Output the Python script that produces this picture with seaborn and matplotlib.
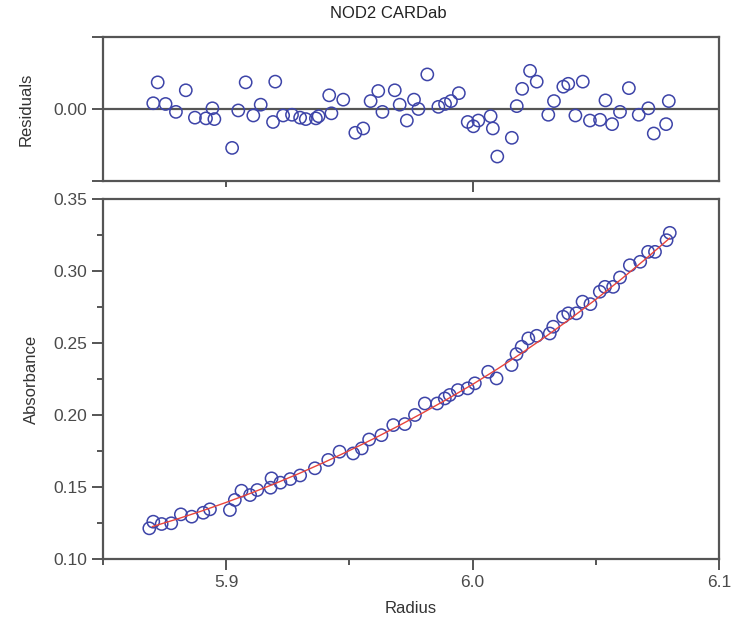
import numpy as np
import pandas as pd
import matplotlib
matplotlib.use("Agg")
import matplotlib.pyplot as plt
from matplotlib.ticker import MultipleLocator, FixedLocator
import seaborn as sns

# residual panel (radius, residual)
res_radius = [5.8704, 5.8722, 5.8754, 5.8796, 5.8836, 5.8873, 5.8918, 5.8944, 5.8952,
              5.9024, 5.9049, 5.9079, 5.9110, 5.9140, 5.9190, 5.9199, 5.9231, 5.9267,
              5.9300, 5.9323, 5.9364, 5.9375, 5.9418, 5.9427, 5.9475, 5.9524, 5.9556,
              5.9586, 5.9617, 5.9634, 5.9684, 5.9704, 5.9733, 5.9762, 5.9780, 5.9816,
              5.9861, 5.9888, 5.9912, 5.9944, 5.9980, 6.0003, 6.0023, 6.0073, 6.0082,
              6.0100, 6.0159, 6.0179, 6.0201, 6.0233, 6.0260, 6.0307, 6.0330, 6.0368,
              6.0388, 6.0417, 6.0447, 6.0476, 6.0517, 6.0539, 6.0566, 6.0598, 6.0634,
              6.0674, 6.0713, 6.0735, 6.0785, 6.0796]
residuals = [0.0008, 0.0037, 0.0007, -0.0004, 0.0026, -0.0012, -0.0013, 0.0001, -0.0014,
             -0.0054, -0.0002, 0.0037, -0.0009, 0.0006, -0.0018, 0.0038, -0.0009, -0.0008,
             -0.0012, -0.0014, -0.0013, -0.0010, 0.0019, -0.0006, 0.0013, -0.0033, -0.0027,
             0.0011, 0.0025, -0.0004, 0.0026, 0.0006, -0.0016, 0.0013, 0.0000, 0.0048,
             0.0003, 0.0007, 0.0011, 0.0022, -0.0018, -0.0024, -0.0016, -0.0010, -0.0027,
             -0.0066, -0.0040, 0.0004, 0.0028, 0.0053, 0.0038, -0.0008, 0.0011, 0.0031,
             0.0035, -0.0009, 0.0038, -0.0016, -0.0015, 0.0012, -0.0021, -0.0004, 0.0029,
             -0.0008, 0.0001, -0.0034, -0.0021, 0.0011]

# main panel (radius, absorbance)
radius = [5.8688, 5.8704, 5.8738, 5.8777, 5.8816, 5.8860, 5.8907, 5.8934, 5.9015,
          5.9035, 5.9062, 5.9097, 5.9126, 5.9180, 5.9184, 5.9220, 5.9260, 5.9300,
          5.9360, 5.9414, 5.9460, 5.9515, 5.9550, 5.9580, 5.9630, 5.9678, 5.9725,
          5.9766, 5.9806, 5.9856, 5.9887, 5.9907, 5.9940, 5.9980, 6.0009, 6.0063,
          6.0097, 6.0158, 6.0178, 6.0199, 6.0226, 6.0260, 6.0313, 6.0327, 6.0367,
          6.0388, 6.0421, 6.0446, 6.0478, 6.0516, 6.0537, 6.0570, 6.0598, 6.0638,
          6.0680, 6.0712, 6.0740, 6.0787, 6.0800]
absorbance = [0.1213, 0.1259, 0.1243, 0.1248, 0.1310, 0.1294, 0.1321, 0.1345, 0.1340,
              0.1410, 0.1474, 0.1444, 0.1479, 0.1495, 0.1560, 0.1530, 0.1555, 0.1580,
              0.1630, 0.1688, 0.1745, 0.1733, 0.1768, 0.1830, 0.1860, 0.1930, 0.1937,
              0.2000, 0.2080, 0.2080, 0.2115, 0.2139, 0.2173, 0.2185, 0.2220, 0.2300,
              0.2254, 0.2347, 0.2423, 0.2474, 0.2532, 0.2550, 0.2566, 0.2613, 0.2682,
              0.2706, 0.2706, 0.2787, 0.2770, 0.2856, 0.2890, 0.2890, 0.2955, 0.3040,
              0.3064, 0.3133, 0.3133, 0.3214, 0.3265]

# fitted curve
fit_radius = [5.87, 5.88, 5.89, 5.90, 5.91, 5.92, 5.93, 5.94, 5.95, 5.96, 5.97,
              5.98, 5.99, 6.00, 6.01, 6.02, 6.03, 6.04, 6.05, 6.06, 6.07, 6.08]
fit_abs = [0.1225, 0.1277, 0.1333, 0.1393, 0.1457, 0.1525, 0.1597, 0.1673, 0.1753,
           0.1837, 0.1925, 0.2017, 0.2113, 0.2213, 0.2319, 0.2431, 0.2549, 0.2673,
           0.2803, 0.2939, 0.3081, 0.3229]

sns.set_style("white")
plt.rcParams["font.family"] = ["Liberation Sans", "DejaVu Sans"]

frame = "#555555"
blue = "#3d44a8"
text_col = "#333333"

fig = plt.figure(figsize=(7.33, 6.29), dpi=100)
ax_res = fig.add_axes([0.1405, 0.7122, 0.8405, 0.229])
ax = fig.add_axes([0.1405, 0.1113, 0.8405, 0.5723])

df_res = pd.DataFrame({"Radius": res_radius, "Residual": residuals})
df_main = pd.DataFrame({"Radius": radius, "Absorbance": absorbance})
df_fit = pd.DataFrame({"Radius": fit_radius, "Absorbance": fit_abs})

# residuals
ax_res.axhline(0, color=frame, lw=1.6, zorder=1)
sns.scatterplot(data=df_res, x="Radius", y="Residual", ax=ax_res, marker="o",
                s=78, facecolor="none", edgecolor=blue, linewidth=1.1, zorder=3)
ax_res.set_xlim(5.85, 6.1)
ax_res.set_ylim(-0.01, 0.01)
ax_res.yaxis.set_major_locator(FixedLocator([-0.01, 0.0, 0.01]))
ax_res.set_yticklabels(["", "0.00", ""])
ax_res.xaxis.set_major_locator(FixedLocator([6.0]))
ax_res.xaxis.set_minor_locator(FixedLocator([5.9]))
ax_res.set_xticklabels([])
ax_res.set_xlabel("")
ax_res.set_ylabel("Residuals", fontsize=12, color=text_col, labelpad=14)

# main fit
sns.scatterplot(data=df_main, x="Radius", y="Absorbance", ax=ax, marker="o",
                s=78, facecolor="none", edgecolor=blue, linewidth=1.1, zorder=3)
sns.lineplot(data=df_fit, x="Radius", y="Absorbance", ax=ax, color="#e8453c",
             lw=1.0, zorder=4)
ax.set_xlim(5.85, 6.1)
ax.set_ylim(0.10, 0.35)
ax.xaxis.set_major_locator(FixedLocator([5.9, 6.0, 6.1]))
ax.xaxis.set_minor_locator(FixedLocator([5.85, 5.95, 6.05]))
ax.yaxis.set_major_locator(MultipleLocator(0.05))
ax.yaxis.set_minor_locator(MultipleLocator(0.025))
ax.yaxis.set_major_formatter(matplotlib.ticker.FormatStrFormatter("%.2f"))
ax.xaxis.set_major_formatter(matplotlib.ticker.FormatStrFormatter("%.1f"))
ax.set_xlabel("Radius", fontsize=12, color=text_col, labelpad=8)
ax.set_ylabel("Absorbance", fontsize=12, color=text_col, labelpad=10)

for a in (ax, ax_res):
    for sp in a.spines.values():
        sp.set_color(frame)
        sp.set_linewidth(1.6)
    a.tick_params(which="major", direction="out", length=8, width=1.4,
                  color=frame, labelsize=12.5, labelcolor="#4a4a4a",
                  left=True, bottom=True)
    a.tick_params(which="minor", direction="out", length=4.5, width=1.4,
                  color=frame, left=True, bottom=True)

fig.text(388 / 733, 1 - 14 / 629, "NOD2 CARDab", ha="center", va="center",
         fontsize=12, color="#222222")

fig.savefig("out.png", dpi=100)
